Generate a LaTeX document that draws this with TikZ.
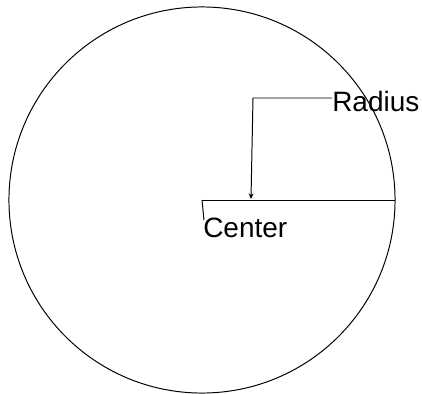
\documentclass[tikz,border=0pt]{standalone}
\usepackage{fontspec}
\setmainfont{Liberation Sans}
\usetikzlibrary{arrows.meta,positioning,calc}

\begin{document}
\begin{tikzpicture}[
        x=0.025cm, y=-0.025cm,
        line/.style={draw, line width=0.7pt},
        arrow/.style={draw, line width=0.7pt, -{Stealth[length=4pt,width=3.5pt]}},
        lbl/.style={inner sep=0pt, font=\fontsize{19.9}{24}\selectfont}
    ]
        \useasboundingbox (0,0) rectangle (422,394);

        % Circle
        \coordinate (center) at (202,200);
        \coordinate (edge) at (395,200);
        \draw[line] (center) circle[radius=4.825cm];

        % Radius line
        \draw[line] (center) -- (edge);

        % Labels
        \node[lbl, anchor=base west] (centerlbl) at (203,237) {Center};
        \node[lbl, anchor=base west] (radiuslbl) at (332,112) {Radius};

        % Leaders
        \coordinate (bend) at (253,98);
        \coordinate (tip) at (251,199);
        \draw[line] (center) -- ($(centerlbl.north west)+(1,3)$);
        \draw[arrow] ($(radiuslbl.base west)+(0,-14)$) -- (bend) -- (tip);
    \end{tikzpicture}
\end{document}
